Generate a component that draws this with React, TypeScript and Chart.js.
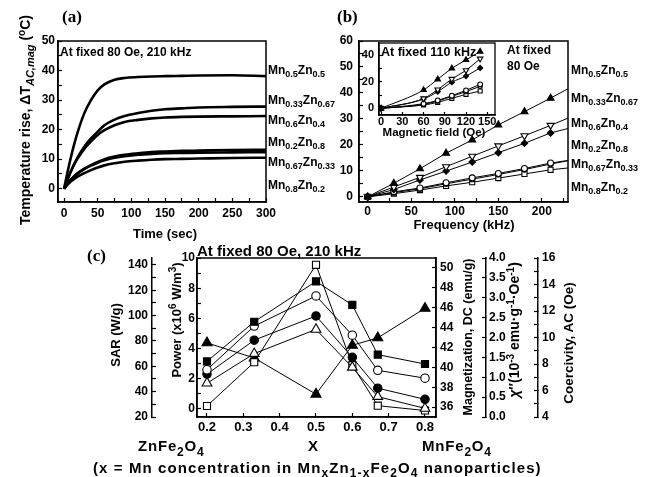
import React, { useEffect, useRef } from "react";
import { Chart, registerables } from "chart.js";
Chart.register(...registerables);

const W = 653;
const H = 477;
const SANS = '"Liberation Sans", Arial, Helvetica, sans-serif';
const SERIF = '"Liberation Serif", "Times New Roman", serif';

// ---------- Panel (a): temperature rise vs time ----------
const timeSec = [0, 5, 10, 15, 20, 30, 40, 50, 60, 75, 90, 110, 130, 150, 175, 200, 250, 300];
const riseMn05 = [0, 5.5, 10.5, 15, 19, 25.5, 30, 33.3, 35.3, 36.9, 37.5, 37.8, 38, 38.1, 38.2, 38.3, 38.4, 38.1];
const riseMn033 = [0, 3, 5.8, 8.3, 10.5, 14.2, 17, 19.3, 21.5, 23.4, 24.6, 25.6, 26.4, 26.9, 27.2, 27.5, 27.7, 27.8];
const riseMn06 = [0, 3, 5.8, 8.2, 10.2, 13.5, 16, 18.2, 19.8, 21.5, 22.6, 23.3, 23.8, 24.1, 24.3, 24.4, 24.5, 24.6];
const riseMn02 = [0, 1.6, 3, 4.2, 5.2, 6.8, 8, 9.1, 10, 10.9, 11.5, 12, 12.4, 12.6, 12.8, 12.9, 13.1, 13.2];
const riseMn067 = [0, 1.6, 3, 4.1, 5.1, 6.6, 7.8, 8.8, 9.6, 10.5, 11, 11.5, 11.8, 12, 12.1, 12.2, 12.3, 12.4];
const riseMn08 = [0, 1.3, 2.4, 3.3, 4.1, 5.3, 6.3, 7.2, 7.9, 8.6, 9.1, 9.5, 9.8, 10, 10.1, 10.2, 10.4, 10.5];
const aXTicks = [0, 25, 50, 75, 100, 125, 150, 175, 200, 225, 250, 275, 300];
const aXLabels = [0, 50, 100, 150, 200, 250, 300];
const aYTicks = [0, 5, 10, 15, 20, 25, 30, 35, 40, 45, 50];
const aYLabels = [0, 10, 20, 30, 40, 50];

// composition labels (order top to bottom)
const mnFrac = ["0.5", "0.33", "0.6", "0.2", "0.67", "0.8"];
const znFrac = ["0.5", "0.67", "0.4", "0.8", "0.33", "0.2"];

// ---------- Panel (b): temperature rise vs frequency ----------
const freqKHz = [0, 30, 60, 90, 120, 150, 180, 210];
const freqEdge = 230;
const fMn05 = [0, 5.2, 10.8, 16.8, 21.9, 27.7, 32.8, 38.0];
const fMn033 = [0, 3.8, 7.5, 11.6, 15.6, 19.6, 23.5, 27.5];
const fMn06 = [0, 2.8, 6.5, 9.9, 13.4, 17.0, 20.6, 24.6];
const fMn02 = [0, 1.9, 3.4, 5.4, 7.3, 9.0, 10.9, 13.0];
const fMn067 = [0, 1.6, 3.1, 5.0, 6.8, 8.6, 10.5, 12.6];
const fMn08 = [0, 1.2, 2.6, 4.2, 5.6, 7.2, 8.8, 10.4];
const fEdgeValues = [41.6, 30.3, 26.3, 14.0, 13.9, 11.1];
const bXTicks = [0, 25, 50, 75, 100, 125, 150, 175, 200, 225];
const bXLabels = [0, 50, 100, 150, 200];
const bYTicks = [0, 5, 10, 15, 20, 25, 30, 35, 40, 45, 50, 55, 60];
const bYLabels = [0, 10, 20, 30, 40, 50, 60];

// inset: temperature rise vs field at 110 kHz
const fieldOe = [0, 60, 80, 100, 120, 140];
const hMn05 = [0, 13.8, 21.8, 30, 36.3, 42.6];
const hMn033 = [0, 7.4, 14, 22, 28.5, 37.2];
const hMn06 = [0, 7, 12.5, 19.6, 24.2, 30.3];
const hMn02 = [0, 3.5, 6, 9.5, 13.5, 18];
const hMn067 = [0, 3, 5.5, 9, 12.5, 16.5];
const hMn08 = [0, 2.5, 4.5, 7.5, 10.5, 13];
const iXTicks = [0, 30, 60, 90, 120, 150];
const iYTicks = [0, 10, 20, 30, 40];
const iYLabels = [0, 20, 40];

// ---------- Panel (c): properties vs Mn concentration ----------
const mnX = [0.2, 0.33, 0.5, 0.6, 0.67, 0.8];
const cFilledSquare = [3.15, 5.78, 8.45, 6.89, 3.6, 2.98];
const cOpenCircle = [2.6, 5.49, 7.49, 4.89, 2.56, 2.04];
const cFilledCircle = [2.31, 4.56, 6.16, 3.42, 1.38, 0.64];
const cOpenTriangle = [1.71, 3.67, 5.27, 2.76, 0.82, 0.04];
const cOpenSquare = [0.2, 3.1, 9.55, 2.9, 0.22, -0.1];
const cFilledTriangle = [4.38, 3.38, 0.98, 4.22, 4.71, 6.67];
const cXTicks = [0.2, 0.3, 0.4, 0.5, 0.6, 0.7, 0.8];
const powerTicks = [0, 1, 2, 3, 4, 5, 6, 7, 8, 9, 10];
const powerLabels = [0, 2, 4, 6, 8, 10];
const sarTicks = [20, 30, 40, 50, 60, 70, 80, 90, 100, 110, 120, 130, 140];
const sarLabels = [20, 40, 60, 80, 100, 120, 140];
const magTicks = [36, 38, 40, 42, 44, 46, 48, 50];
const chiTicks = [0, 0.5, 1, 1.5, 2, 2.5, 3, 3.5, 4];
const coerTicks = [4, 5, 6, 7, 8, 9, 10, 11, 12, 13, 14, 15, 16];
const coerLabels = [4, 6, 8, 10, 12, 14, 16];

// ---------- helpers ----------
type AxisSpec = {
  position: string;
  min: number;
  max: number;
  ticks: number[];
  labels: number[];
  size: number;
  pad: number;
  tl?: number;
  font?: number;
  weight?: number;
  fmt?: (v: number) => string;
};

function axis(s: AxisSpec) {
  const horizontal = s.position === "top" || s.position === "bottom";
  return {
    type: "linear",
    axis: horizontal ? "x" : "y",
    position: s.position,
    min: s.min,
    max: s.max,
    weight: s.weight ?? 0,
    afterBuildTicks: (sc: any) => {
      sc.ticks = s.ticks.map((v) => ({ value: v }));
    },
    afterFit: (sc: any) => {
      if (horizontal) sc.height = s.size;
      else sc.width = s.size;
    },
    ticks: {
      autoSkip: false,
      maxRotation: 0,
      minRotation: 0,
      padding: s.pad,
      color: "#000",
      font: { family: SANS, size: s.font ?? 12, weight: "bold" },
      callback: (v: number) =>
        s.labels.some((l) => Math.abs(l - v) < 1e-9) ? (s.fmt ? s.fmt(v) : String(v)) : "",
    },
    grid: {
      display: true,
      drawOnChartArea: false,
      drawTicks: true,
      tickLength: s.tl ?? -4,
      tickColor: "#000",
      tickWidth: 1.2,
    },
    border: { display: true, color: "#000", width: 1.5 },
  };
}

function frame(lw: number) {
  return {
    id: "frame",
    afterDatasetsDraw(chart: any) {
      const { ctx, chartArea: a } = chart;
      ctx.save();
      ctx.strokeStyle = "#000";
      ctx.lineWidth = lw;
      ctx.strokeRect(a.left, a.top, a.right - a.left, a.bottom - a.top);
      ctx.restore();
    },
  };
}

function baseOptions(padding: any, scales: any) {
  return {
    responsive: false,
    animation: false,
    events: [],
    layout: { padding },
    plugins: { legend: { display: false }, tooltip: { enabled: false } },
    scales,
  };
}

type Mark = { shape: string; r: number; fill: boolean; rot?: number };

function markSeries(xs: number[], ys: number[], m: Mark, edge?: { x: number; y: number }, smooth = false) {
  const data: { x: number; y: number }[] = xs.map((x, i) => ({ x, y: ys[i] }));
  if (edge) data.push(edge);
  const n = xs.length;
  return {
    data,
    showLine: true,
    borderColor: "#000",
    borderWidth: 1,
    tension: 0,
    cubicInterpolationMode: smooth ? "monotone" : "default",
    pointStyle: m.shape,
    pointRotation: m.rot ?? 0,
    pointRadius: (c: any) => (c.dataIndex >= n ? 0 : m.r),
    pointBackgroundColor: m.fill ? "#000" : "#fff",
    pointBorderColor: "#000",
    pointBorderWidth: 1.1,
  };
}

// ---------- chart factories ----------
function makeA() {
  const series = [riseMn05, riseMn033, riseMn06, riseMn02, riseMn067, riseMn08];
  return {
    type: "scatter",
    data: {
      datasets: series.map((ys) => ({
        data: timeSec.map((t, i) => ({ x: t, y: ys[i] })),
        showLine: true,
        borderColor: "#000",
        borderWidth: 2.6,
        pointRadius: 0,
        cubicInterpolationMode: "monotone",
      })),
    },
    options: baseOptions(
      { left: 18, top: 41, right: 387, bottom: 255 },
      {
        x: axis({ position: "bottom", min: -9, max: 300, ticks: aXTicks, labels: aXLabels, size: 20, pad: 8.8 }),
        y: axis({ position: "left", min: -4.5, max: 50, ticks: aYTicks, labels: aYLabels, size: 40, pad: 7 }),
      }
    ),
    plugins: [frame(1.5)],
  };
}

const bMarks: Mark[] = [
  { shape: "triangle", r: 4, fill: true },
  { shape: "triangle", r: 4, fill: false, rot: 180 },
  { shape: "rectRot", r: 3.2, fill: true },
  { shape: "circle", r: 3, fill: false },
  { shape: "circle", r: 2.6, fill: false },
  { shape: "rect", r: 3.6, fill: false },
];

function makeB() {
  const series = [fMn05, fMn033, fMn06, fMn02, fMn067, fMn08];
  return {
    type: "scatter",
    data: {
      datasets: series.map((ys, k) =>
        markSeries(freqKHz, ys, bMarks[k], { x: freqEdge, y: fEdgeValues[k] })
      ),
    },
    options: baseOptions(
      { left: 319, top: 41, right: 85, bottom: 255 },
      {
        x: axis({ position: "bottom", min: -10, max: 230, ticks: bXTicks, labels: bXLabels, size: 20, pad: 6.8 }),
        y: axis({ position: "left", min: -2, max: 60, ticks: bYTicks, labels: bYLabels, size: 40, pad: 10 }),
      }
    ),
    plugins: [frame(1.5)],
  };
}

function makeInset() {
  const series = [hMn05, hMn033, hMn06, hMn02, hMn067, hMn08];
  const marks = bMarks.map((m) => ({ ...m, r: m.r * 0.8 }));
  return {
    type: "scatter",
    data: { datasets: series.map((ys, k) => markSeries(fieldOe, ys, marks[k], undefined, true)) },
    options: baseOptions(
      { left: 349, top: 43, right: 158, bottom: 347 },
      {
        x: axis({ position: "bottom", min: -3, max: 161, ticks: iXTicks, labels: iXTicks, size: 15, pad: 3.4, tl: -3, font: 11 }),
        y: axis({ position: "left", min: -5, max: 49, ticks: iYTicks, labels: iYLabels, size: 30, pad: 8, tl: -3, font: 11 }),
      }
    ),
    plugins: [frame(1.3)],
  };
}

const cMarks: Mark[] = [
  { shape: "rect", r: 5, fill: true },
  { shape: "circle", r: 4.2, fill: false },
  { shape: "circle", r: 4.2, fill: true },
  { shape: "triangle", r: 5.6, fill: false },
  { shape: "rect", r: 5, fill: false },
  { shape: "triangle", r: 5.8, fill: true },
];

function makeC() {
  const series = [cFilledSquare, cOpenCircle, cFilledCircle, cOpenTriangle, cOpenSquare, cFilledTriangle];
  const f1 = (v: number) => v.toFixed(1);
  return {
    type: "scatter",
    data: { datasets: series.map((ys, k) => markSeries(mnX, ys, cMarks[k])) },
    options: baseOptions(
      { left: 112, top: 258, right: 85, bottom: 40 },
      {
        x: axis({ position: "bottom", min: 0.1725, max: 0.8303, ticks: cXTicks, labels: cXTicks, size: 20, pad: 6.2, font: 13, fmt: f1 }),
        y: axis({ position: "left", min: -0.53, max: 10, ticks: powerTicks, labels: powerLabels, size: 45, pad: 6, weight: 0 }),
        sar: axis({ position: "left", min: 20, max: 145.5, ticks: sarTicks, labels: sarLabels, size: 40, pad: 8, weight: 1 }),
        mag: axis({ position: "right", min: 35, max: 51, ticks: magTicks, labels: magTicks, size: 50, pad: 8, weight: 0 }),
        chi: axis({ position: "right", min: 0, max: 4, ticks: chiTicks, labels: chiTicks, size: 52, pad: 7, weight: 1, fmt: f1 }),
        coer: axis({ position: "right", min: 4, max: 16, ticks: coerTicks, labels: coerLabels, size: 30, pad: 8, weight: 2 }),
      }
    ),
    plugins: [frame(1.5)],
  };
}

function Layer({ make }: { make: () => any }) {
  const ref = useRef<HTMLCanvasElement>(null);
  useEffect(() => {
    const chart = new Chart(ref.current as HTMLCanvasElement, make());
    return () => chart.destroy();
  }, []);
  return (
    <canvas
      ref={ref}
      width={W}
      height={H}
      style={{ position: "absolute", left: 0, top: 0, width: W, height: H }}
    />
  );
}

// ---------- text helpers ----------
type TP = {
  x: number;
  y: number;
  size: number;
  align?: "left" | "center";
  rot?: boolean;
  serif?: boolean;
  ls?: number;
  children: React.ReactNode;
};

function Txt({ x, y, size, align = "left", rot = false, serif = false, ls, children }: TP) {
  const base: React.CSSProperties = {
    position: "absolute",
    whiteSpace: "nowrap",
    fontFamily: serif ? SERIF : SANS,
    fontWeight: "bold",
    fontSize: size,
    lineHeight: `${size}px`,
    color: "#000",
    letterSpacing: ls,
  };
  if (rot)
    return <div style={{ ...base, left: x, top: y, transform: "translate(-50%,-50%) rotate(-90deg)" }}>{children}</div>;
  if (align === "center")
    return <div style={{ ...base, left: x, top: y, transform: "translate(-50%,-50%)" }}>{children}</div>;
  return <div style={{ ...base, left: x, top: y - size / 2 }}>{children}</div>;
}

function Sub({ s = 9, d = 3, italic = false, children }: { s?: number; d?: number; italic?: boolean; children: React.ReactNode }) {
  return (
    <span style={{ fontSize: s, position: "relative", top: d, fontStyle: italic ? "italic" : "normal" }}>{children}</span>
  );
}

function Sup({ s = 9, d = -5, children }: { s?: number; d?: number; children: React.ReactNode }) {
  return <span style={{ fontSize: s, position: "relative", top: d }}>{children}</span>;
}

const aLabelY = [70, 100, 120, 142, 162, 185];
const bLabelY = [70, 98, 123, 145, 164, 187];

export default function App() {
  return (
    <div style={{ position: "absolute", left: 0, top: 0, width: W, height: H, background: "#fff", overflow: "hidden" }}>
      <Layer make={makeA} />
      <Layer make={makeB} />
      <Layer make={makeInset} />
      <Layer make={makeC} />

      {/* panel letters */}
      <Txt x={62} y={16} size={17} serif>(a)</Txt>
      <Txt x={337} y={16} size={17} serif>(b)</Txt>
      <Txt x={87} y={255} size={17} serif>(c)</Txt>

      {/* panel (a) texts */}
      <Txt x={60} y={52} size={12}>At fixed 80 Oe, 210 kHz</Txt>
      <Txt x={26} y={120} size={14} rot>
        Temperature rise, ΔT<Sub s={11} d={4} italic>AC,mag</Sub> (<Sup s={10}>o</Sup>C)
      </Txt>
      <Txt x={165} y={233} size={13} align="center">Time (sec)</Txt>
      {mnFrac.map((m, i) => (
        <Txt key={"a" + i} x={268} y={aLabelY[i]} size={12}>
          Mn<Sub>{m}</Sub>Zn<Sub>{znFrac[i]}</Sub>
        </Txt>
      ))}

      {/* panel (b) texts */}
      <Txt x={507} y={50} size={12}>At fixed</Txt>
      <Txt x={507} y={66} size={12}>80 Oe</Txt>
      <Txt x={381} y={52} size={12.5}>At fixed 110 kHz</Txt>
      <Txt x={434} y={133} size={11.5} align="center">Magnetic field (Oe)</Txt>
      <Txt x={464} y={224} size={13} align="center">Frequency (kHz)</Txt>
      {mnFrac.map((m, i) => (
        <Txt key={"b" + i} x={571} y={bLabelY[i]} size={12}>
          Mn<Sub>{m}</Sub>Zn<Sub>{znFrac[i]}</Sub>
        </Txt>
      ))}

      {/* panel (c) texts */}
      <Txt x={197} y={250} size={15}>At fixed 80 Oe, 210 kHz</Txt>
      <Txt x={115} y={335} size={13} rot>SAR (W/g)</Txt>
      <Txt x={177} y={320} size={13} rot>
        Power (x10<Sup s={10}>6</Sup> W/m<Sup s={10}>3</Sup>)
      </Txt>
      <Txt x={468} y={337} size={12.5} rot>Magnetization, DC (emu/g)</Txt>
      <Txt x={515} y={330} size={14} rot>
        <i>χ</i>″(10<Sup s={10}>-3</Sup> emu·g<Sup s={10}>-1</Sup>·Oe<Sup s={10}>-1</Sup>)
      </Txt>
      <Txt x={569} y={343} size={13.5} rot>Coercivity, AC (Oe)</Txt>
      <Txt x={138} y={445} size={15} ls={0.8}>
        ZnFe<Sub s={12} d={5}>2</Sub>O<Sub s={12} d={5}>4</Sub>
      </Txt>
      <Txt x={313} y={445} size={15} align="center">X</Txt>
      <Txt x={422} y={445} size={15} ls={0.8}>
        MnFe<Sub s={12} d={5}>2</Sub>O<Sub s={12} d={5}>4</Sub>
      </Txt>
      <Txt x={93} y={467} size={15} ls={1.1}>
        (x = Mn concentration in Mn<Sub s={12} d={4}>x</Sub>Zn<Sub s={12} d={4}>1-x</Sub>Fe
        <Sub s={12} d={4}>2</Sub>O<Sub s={12} d={4}>4</Sub> nanoparticles)
      </Txt>
    </div>
  );
}
